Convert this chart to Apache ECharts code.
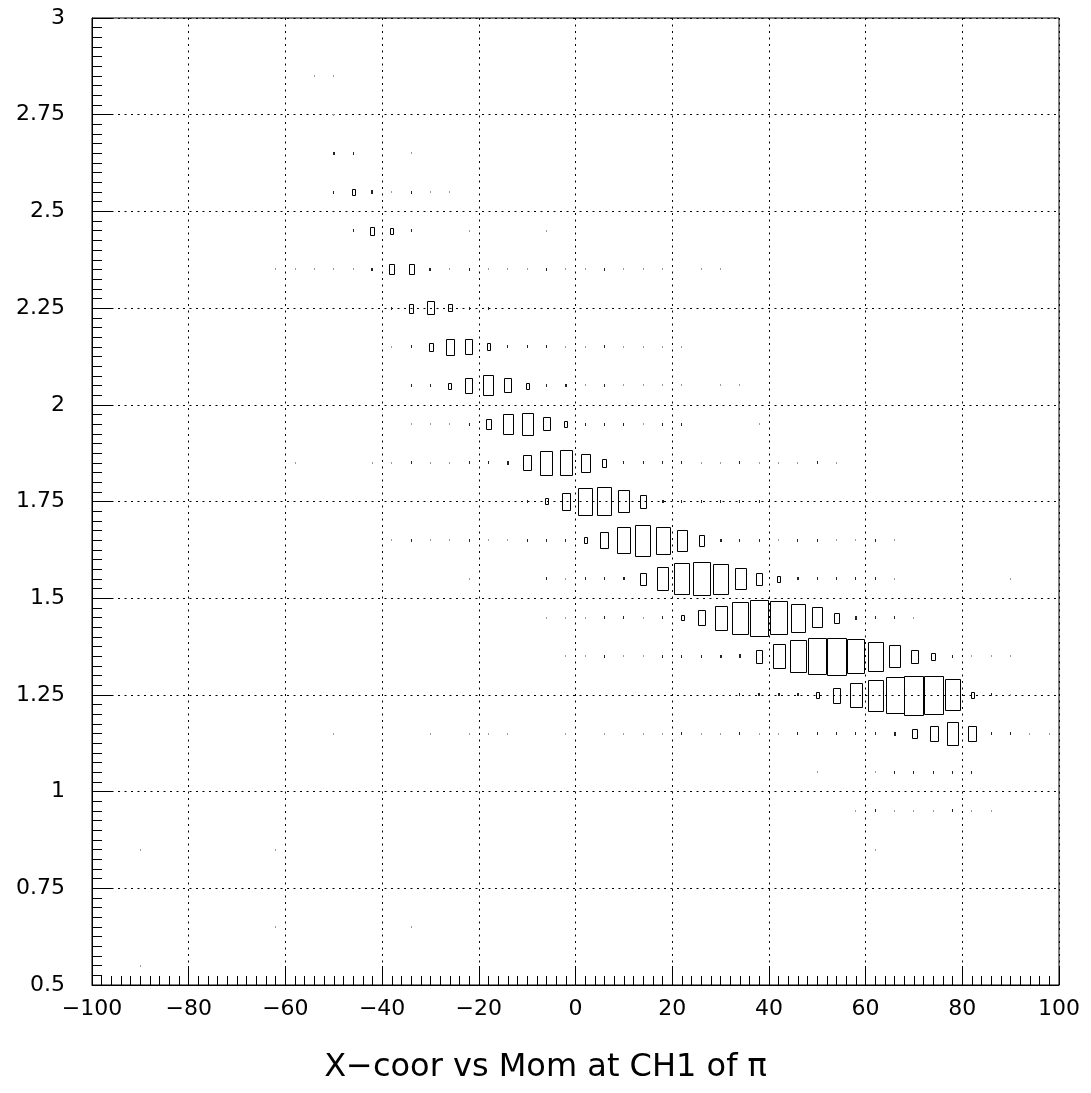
<!DOCTYPE html>
<html>
<head>
<meta charset="utf-8">
<script src="https://cdn.jsdelivr.net/npm/echarts@6/dist/echarts.min.js"></script>
<style>
html,body{margin:0;padding:0;background:#fff;}
#chart{width:1091px;height:1093px;}
</style>
</head>
<body>
<div id="chart"></div>
<script>
// Axis ranges and ticks
const xTicks = [-100, -80, -60, -40, -20, 0, 20, 40, 60, 80, 100];
const yTicks = [0.5, 0.75, 1, 1.25, 1.5, 1.75, 2, 2.25, 2.5, 2.75, 3];
const binW = 4;      // x bin width
const binH = 0.1;    // y bin width
const maxCount = 400;

// Rows of the 2D histogram: [x bin centre, count], keyed by y bin centre
const r2_85 = [[-54,1],[-50,1]];
const r2_75 = [[-50,1]];
const r2_65 = [[-50,3],[-46,2],[-34,1]];
const r2_55 = [[-50,2],[-46,9],[-42,4],[-38,1],[-34,2],[-30,1],[-26,1]];
const r2_45 = [[-46,2],[-42,16],[-38,10],[-34,2],[-22,1],[-6,1]];
const r2_35 = [[-62,1],[-58,1],[-54,1],[-50,1],[-46,1],[-42,3],[-38,29],[-34,29],[-30,3],[-26,1],[-22,2],[-18,1],[-14,1],[-10,1],[-6,2],[-2,1],[2,1],[6,2],[10,1],[14,1],[18,1],[26,1],[30,1]];
const r2_25 = [[-38,2],[-34,21],[-30,48],[-26,15],[-22,2],[-18,2]];
const r2_15 = [[-38,1],[-34,2],[-30,16],[-26,67],[-22,60],[-18,12],[-14,2],[-10,2],[-6,2],[-2,1],[2,1],[6,2],[10,1],[14,1],[18,1],[22,1]];
const r2_05 = [[-34,2],[-30,2],[-26,9],[-22,58],[-18,108],[-14,52],[-10,9],[-6,2],[-2,3],[2,1],[6,2],[10,1],[14,1],[18,1],[22,1],[30,1],[34,1]];
const r1_95 = [[-34,1],[-30,1],[-26,1],[-22,2],[-18,27],[-14,112],[-10,128],[-6,48],[-2,9],[2,2],[6,2],[10,2],[14,1],[18,2],[22,2],[38,1]];
const r1_85 = [[-58,1],[-42,1],[-38,1],[-34,2],[-30,1],[-26,1],[-22,2],[-18,2],[-14,5],[-10,64],[-6,154],[-2,163],[2,85],[6,19],[10,2],[14,2],[18,2],[22,2],[26,1],[30,1],[34,2],[38,1],[42,1],[46,1],[50,2],[54,1]];
const r1_75 = [[-10,2],[-6,10],[-2,74],[2,196],[6,213],[10,135],[14,44],[18,3],[22,2],[26,2],[30,2],[34,2],[38,2]];
const r1_65 = [[-38,1],[-34,2],[-30,1],[-26,1],[-22,2],[-18,1],[-14,1],[-10,2],[-6,2],[-2,2],[2,10],[6,70],[10,175],[14,256],[18,200],[22,117],[26,31],[30,3],[34,2],[38,2],[42,1],[46,2],[50,2],[54,1],[58,1],[62,2],[66,1]];
const r1_55 = [[-22,1],[-6,2],[-2,1],[2,2],[6,2],[10,3],[14,36],[18,139],[22,256],[26,296],[30,237],[34,121],[38,38],[42,9],[46,3],[50,2],[54,2],[58,2],[62,2],[66,1],[90,1]];
const r1_45 = [[-6,1],[-2,1],[2,1],[6,2],[10,2],[14,1],[18,2],[22,7],[26,58],[30,155],[34,270],[38,345],[42,296],[46,207],[50,112],[54,27],[58,5],[62,2],[66,2],[70,1]];
const r1_35 = [[-2,1],[2,1],[6,2],[10,1],[14,1],[18,2],[22,2],[26,2],[30,3],[34,4],[38,44],[42,152],[46,270],[50,345],[54,370],[58,310],[62,231],[66,125],[70,46],[74,14],[78,2],[82,1],[86,1],[90,1]];
const r1_25 = [[34,2],[38,3],[42,3],[46,3],[50,10],[54,58],[58,155],[62,250],[66,345],[70,400],[74,392],[78,256],[82,9],[86,2],[90,1]];
const r1_15 = [[-50,1],[-30,1],[-22,1],[-18,1],[-14,1],[-2,1],[6,1],[10,1],[14,1],[18,1],[22,2],[26,1],[30,1],[34,2],[38,1],[42,1],[46,2],[50,2],[54,2],[58,2],[62,2],[66,5],[70,23],[74,61],[78,139],[82,61],[86,2],[90,2],[94,1],[98,1]];
const r1_05 = [[50,1],[62,1],[66,2],[70,2],[74,2],[78,2],[82,2]];
const r0_95 = [[58,1],[62,2],[66,1],[70,1],[74,1],[78,2],[82,1],[86,1]];
const r0_85 = [[-90,1],[-62,1],[62,1]];
const r0_65 = [[-62,1],[-34,1]];
const r0_55 = [[-90,1]];

const rows = [
  [2.85, r2_85],[2.75, r2_75],[2.65, r2_65],[2.55, r2_55],[2.45, r2_45],[2.35, r2_35],
  [2.25, r2_25],[2.15, r2_15],[2.05, r2_05],[1.95, r1_95],[1.85, r1_85],[1.75, r1_75],
  [1.65, r1_65],[1.55, r1_55],[1.45, r1_45],[1.35, r1_35],[1.25, r1_25],[1.15, r1_15],
  [1.05, r1_05],[0.95, r0_95],[0.85, r0_85],[0.65, r0_65],[0.55, r0_55]
];

const data = [];
rows.forEach(([y, list]) => list.forEach(([x, c]) => data.push([x, y, c])));

const FONT = 'DejaVu Sans';

const chart = echarts.init(document.getElementById('chart'), null, {renderer: 'canvas'});
chart.setOption({
  animation: false,
  backgroundColor: '#fff',
  title: {
    text: 'X\u2212coor vs Mom at CH1 of \u03c0',
    left: 'center',
    top: 1047,
    textStyle: {fontFamily: FONT, fontSize: 32, fontWeight: 'normal', color: '#000'}
  },
  grid: {
    left: 92, right: 32, top: 18, bottom: 108,
    show: true, borderColor: '#000', borderWidth: 1, backgroundColor: 'transparent'
  },
  xAxis: {
    type: 'value', min: xTicks[0], max: xTicks[xTicks.length - 1], interval: 20,
    axisLine: {show: true, onZero: false, lineStyle: {color: '#000', width: 1}},
    axisTick: {show: true, inside: true, length: 19, lineStyle: {color: '#000'}},
    minorTick: {show: true, splitNumber: 10, length: 9, lineStyle: {color: '#000'}},
    splitLine: {show: true, lineStyle: {color: '#000', type: [2, 4.5], width: 1}},
    axisLabel: {
      fontFamily: FONT, fontSize: 22, color: '#000', margin: 13,
      formatter: v => String(v).replace('-', '\u2212')
    }
  },
  yAxis: {
    type: 'value', min: yTicks[0], max: yTicks[yTicks.length - 1], interval: 0.25,
    axisLine: {show: true, onZero: false, lineStyle: {color: '#000', width: 1}},
    axisTick: {show: true, inside: true, length: 21, lineStyle: {color: '#000'}},
    minorTick: {show: true, splitNumber: 10, length: 10, lineStyle: {color: '#000'}},
    splitLine: {show: true, lineStyle: {color: '#000', type: [2, 4.5], width: 1}},
    axisLabel: {
      fontFamily: FONT, fontSize: 22, color: '#000', margin: 27,
      padding: [5, 0, 0, 0],
      formatter: v => String(v)
    }
  },
  series: [{
    type: 'custom',
    coordinateSystem: 'cartesian2d',
    data: data,
    clip: true,
    renderItem: function (params, api) {
      const x = api.value(0), y = api.value(1), c = api.value(2);
      const ctr = api.coord([x, y]);
      const full = api.size([binW, binH]);
      const r = Math.sqrt(c / maxCount);
      const w = full[0] * r, h = full[1] * r;
      if (w < 2.5) {
        const ww = Math.max(1, Math.round(w)), hh = Math.max(1, Math.round(h));
        return {
          type: 'rect',
          shape: {x: Math.round(ctr[0] - ww / 2), y: Math.round(ctr[1] - hh / 2), width: ww, height: hh},
          style: {fill: c <= 1 ? '#9a9a9a' : '#222'}
        };
      }
      const x0 = Math.round(ctr[0] - w / 2) + 0.5;
      const y0 = Math.round(ctr[1] - h / 2) + 0.5;
      return {
        type: 'rect',
        shape: {x: x0, y: y0, width: Math.round(w), height: Math.round(h)},
        style: {fill: 'none', stroke: '#000', lineWidth: 1}
      };
    }
  }]
});
</script>
</body>
</html>
